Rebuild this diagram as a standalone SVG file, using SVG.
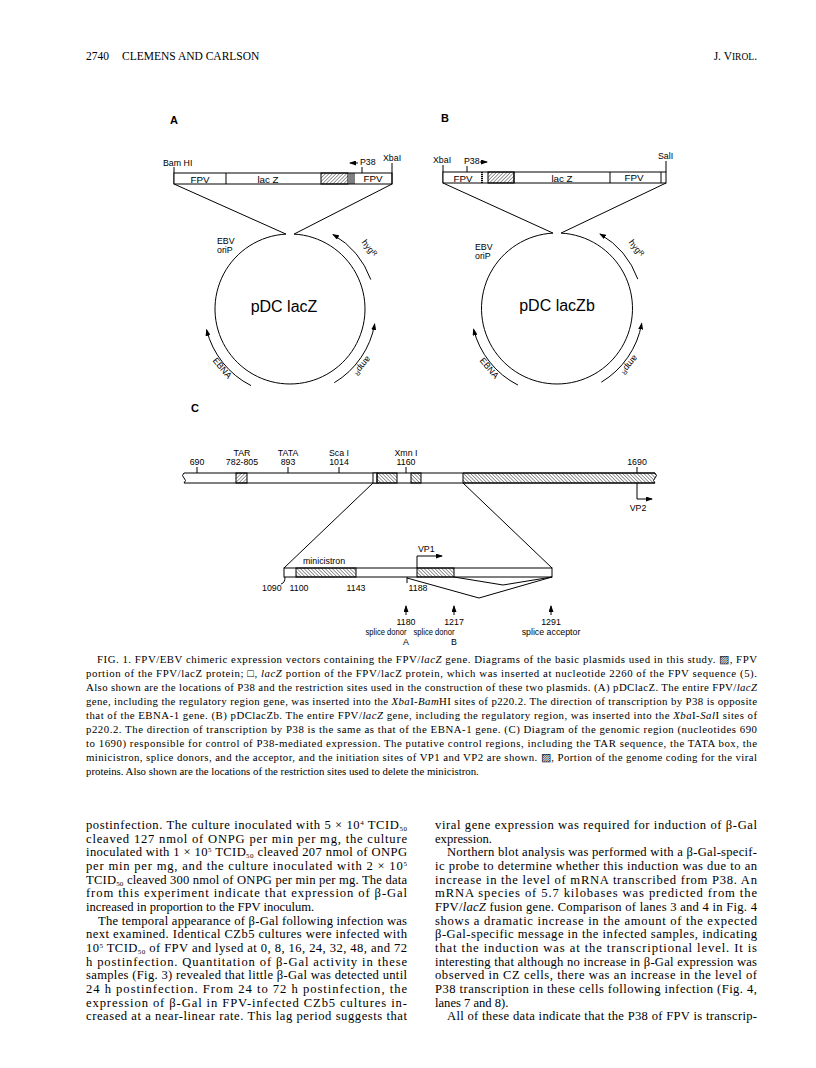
<svg xmlns="http://www.w3.org/2000/svg" width="816" height="1068" viewBox="0 0 816 1068">
<style>
.l{font-family:"Liberation Sans",Arial,sans-serif;font-size:8.8px;fill:#000}
.lc{font-family:"Liberation Sans",Arial,sans-serif;font-size:8.8px;fill:#000;text-anchor:middle}
.bl{font-family:"Liberation Sans",Arial,sans-serif;font-size:9.8px;fill:#000;text-anchor:middle}
.big{font-family:"Liberation Sans",Arial,sans-serif;font-size:16px;fill:#000;text-anchor:middle}
.pl{font-family:"Liberation Sans",Arial,sans-serif;font-size:11px;font-weight:bold;fill:#000}
.s{fill:none;stroke:#000;stroke-width:1}
.bx{fill:#fff;stroke:#000;stroke-width:1}
.hf{fill:url(#hf);stroke:#000;stroke-width:1}
.hb{fill:url(#hb);stroke:#000;stroke-width:1}
.cap{font-family:"Liberation Serif","Times New Roman",serif;font-size:10.8px;fill:#000}
.bd{font-family:"Liberation Serif","Times New Roman",serif;font-size:12.6px;fill:#000}
.hd{font-family:"Liberation Serif","Times New Roman",serif;font-size:11.5px;fill:#000}
.i{font-style:italic}
.sup{font-size:7px}
</style>
<defs>
<pattern id="hf" patternUnits="userSpaceOnUse" width="2.5" height="2.5" patternTransform="rotate(45)"><line x1="0" y1="0" x2="0" y2="2.5" stroke="#000" stroke-width="0.8"/></pattern>
<pattern id="hb" patternUnits="userSpaceOnUse" width="2.5" height="2.5" patternTransform="rotate(-45)"><line x1="0" y1="0" x2="0" y2="2.5" stroke="#000" stroke-width="0.8"/></pattern>
<marker id="ah" markerWidth="7" markerHeight="5" refX="6" refY="2.5" orient="auto" markerUnits="userSpaceOnUse"><path d="M0,0 L7,2.5 L0,5 z" fill="#000"/></marker>
</defs>

<g id="header">
<text class="hd" x="86" y="60">2740</text>
<text class="hd" x="122" y="60">CLEMENS AND CARLSON</text>
<text class="hd" x="757" y="60" text-anchor="end">J. V<tspan font-size="9.5">IROL</tspan>.</text>
</g>

<text class="pl" x="170" y="124">A</text>
<text class="pl" x="441" y="122">B</text>
<text class="pl" x="191" y="412" font-size="13">C</text>

<g id="panelA-insert">
<text class="l" x="163" y="166">Bam HI</text>
<line class="s" x1="174" y1="167" x2="174" y2="184"/>
<rect class="bx" x="174" y="173" width="218" height="11"/>
<line class="s" x1="226" y1="173" x2="226" y2="184"/>
<rect class="hf" x="321" y="173" width="27" height="11"/>
<line class="s" x1="350" y1="173" x2="350" y2="184"/>
<line class="s" x1="352" y1="173" x2="352" y2="184"/>
<line class="s" x1="354" y1="173" x2="354" y2="184"/>
<text class="bl" x="200" y="183">FPV</text>
<text class="bl" x="268" y="183">lac Z</text>
<text class="bl" x="373" y="182">FPV</text>
<line class="s" x1="358" y1="163" x2="350" y2="163" marker-end="url(#ah)"/>
<text class="l" x="360" y="165">P38</text>
<line class="s" x1="362" y1="167" x2="362" y2="173"/>
<text class="l" x="383" y="161">XbaI</text>
<line class="s" x1="392" y1="163" x2="392" y2="184"/>
</g>
<g id="plasmidA">
<path class="s" d="M286 234.1 A75 75 0 1 0 294 234.1"/>
<text class="l" x="217" y="244">EBV</text>
<text class="l" x="217" y="253">oriP</text>
<text class="big" x="284" y="312">pDC lacZ</text>
<path class="s" d="M370.8 279.6 A86 86 0 0 0 333 234.5" marker-end="url(#ah)"/>
<text class="lc" transform="translate(367 250) rotate(52)">hyg<tspan font-size="6.5" dy="-2">R</tspan></text>
<path class="s" d="M251 385.6 A86 86 0 0 1 206.6 329.8" marker-end="url(#ah)"/>
<text class="lc" transform="translate(220 370) rotate(50)">EBNA</text>
<path class="s" d="M334.3 382.7 A86 86 0 0 0 374.7 323.9" marker-end="url(#ah)"/>
<text class="lc" transform="translate(360 364) rotate(130)">amp<tspan font-size="6.5" dy="-2">R</tspan></text>
</g>

<g id="panelB-insert">
<text class="l" x="433" y="163">XbaI</text>
<line class="s" x1="443" y1="165" x2="443" y2="183"/>
<rect class="bx" x="443" y="172" width="223" height="11"/>
<line x1="482" y1="172" x2="482" y2="183" stroke="#000" stroke-width="2" stroke-dasharray="1.2 0.8"/>
<rect class="hf" x="488" y="172" width="26" height="11"/>
<line class="s" x1="514" y1="172" x2="514" y2="183"/>
<line class="s" x1="610" y1="172" x2="610" y2="183"/>
<line class="s" x1="661" y1="172" x2="661" y2="183"/>
<text class="bl" x="463" y="182">FPV</text>
<text class="bl" x="562" y="182">lac Z</text>
<text class="bl" x="634" y="181">FPV</text>
<text class="l" x="464" y="164">P38</text>
<line class="s" x1="480" y1="162" x2="487" y2="162" marker-end="url(#ah)"/>
<line class="s" x1="467" y1="166" x2="467" y2="172"/>
<text class="l" x="658" y="159">SalI</text>
<line class="s" x1="666" y1="161" x2="666" y2="172"/>
</g>
<g id="plasmidB">
<path class="s" d="M553 233.1 A75.5 75.5 0 1 0 561 233.1"/>
<text class="l" x="475" y="250">EBV</text>
<text class="l" x="475" y="259">oriP</text>
<text class="big" x="557" y="311">pDC lacZb</text>
<path class="s" d="M637.8 279.1 A86 86 0 0 0 600 234" marker-end="url(#ah)"/>
<text class="lc" transform="translate(634 250) rotate(52)">hyg<tspan font-size="6.5" dy="-2">R</tspan></text>
<path class="s" d="M518 385.1 A86 86 0 0 1 473.6 329.3" marker-end="url(#ah)"/>
<text class="lc" transform="translate(487 370) rotate(50)">EBNA</text>
<path class="s" d="M601.3 382.2 A86 86 0 0 0 641.7 323.4" marker-end="url(#ah)"/>
<text class="lc" transform="translate(627 363) rotate(130)">amp<tspan font-size="6.5" dy="-2">R</tspan></text>
</g>

<g id="genome">
<path class="s" d="M184 473 H655 M184 483 H655"/>
<path class="s" d="M184 473 q-3 2.5 0 5 q3 2.5 0 5"/>
<rect class="hf" x="236" y="473" width="11" height="10"/>
<rect class="bx" x="373" y="473" width="4" height="10"/>
<rect class="hb" x="377" y="473" width="20" height="10"/>
<rect class="hb" x="411" y="473" width="10" height="10"/>
<path class="hb" d="M463 473 H655 q3 2.5 0 5 q-3 2.5 0 5 H463 Z"/>
<text class="lc" x="197" y="465">690</text>
<line class="s" x1="197" y1="467" x2="197" y2="473"/>
<text class="lc" x="242" y="456">TAR</text>
<text class="lc" x="242" y="465">782-805</text>
<text class="lc" x="288" y="456">TATA</text>
<text class="lc" x="288" y="465">893</text>
<line class="s" x1="288" y1="467" x2="288" y2="473"/>
<text class="lc" x="339" y="456">Sca I</text>
<text class="lc" x="339" y="465">1014</text>
<line class="s" x1="339" y1="467" x2="339" y2="473"/>
<text class="lc" x="406" y="456">Xmn I</text>
<text class="lc" x="406" y="465">1160</text>
<line class="s" x1="406" y1="467" x2="406" y2="473"/>
<text class="lc" x="637" y="465">1690</text>
<line class="s" x1="637" y1="467" x2="637" y2="473"/>
<path class="s" d="M637 483 V499 H652" marker-end="url(#ah)"/>
<text class="lc" x="638" y="511">VP2</text>
</g>

<g id="minicistron-region">
<rect class="bx" x="284" y="568" width="268" height="9"/>
<rect class="hb" x="296" y="568" width="60" height="9"/>
<rect class="hb" x="417" y="568" width="37" height="9"/>
<text class="l" x="303" y="564">minicistron</text>
<path class="s" d="M417 568 V556 H442" marker-end="url(#ah)"/>
<text class="l" x="418" y="552">VP1</text>
<text class="l" x="262" y="591">1090</text>
<path class="s" d="M285 577 q0 6 -4 7"/>
<text class="lc" x="299" y="591">1100</text>
<text class="lc" x="356" y="591">1143</text>
<text class="lc" x="418" y="591">1188</text>
<line class="s" x1="407" y1="577" x2="407" y2="583"/>
</g>

<g id="splice-labels">
<line class="s" x1="406" y1="615" x2="406" y2="606" marker-end="url(#ah)" stroke-width="0.8"/>
<text class="lc" x="406" y="625">1180</text>
<text class="lc" x="386" y="635" text-anchor="start" textLength="41" lengthAdjust="spacingAndGlyphs">splice donor</text>
<text class="lc" x="406" y="645">A</text>
<line class="s" x1="454" y1="615" x2="454" y2="606" marker-end="url(#ah)" stroke-width="0.8"/>
<text class="lc" x="454" y="625">1217</text>
<text class="lc" x="434" y="635" text-anchor="start" textLength="41" lengthAdjust="spacingAndGlyphs">splice donor</text>
<text class="lc" x="454" y="645">B</text>
<line class="s" x1="551" y1="615" x2="551" y2="606" marker-end="url(#ah)" stroke-width="0.8"/>
<text class="lc" x="551" y="625">1291</text>
<text class="lc" x="551" y="635">splice acceptor</text>
</g>

<g id="connectors">
<line class="s" x1="174" y1="184" x2="286" y2="234.1"/>
<line class="s" x1="392" y1="184" x2="294" y2="234.1"/>
<line class="s" x1="443" y1="183" x2="553" y2="233.1"/>
<line class="s" x1="666" y1="183" x2="561" y2="233.1"/>
<line class="s" x1="373" y1="483" x2="284" y2="568"/>
<line class="s" x1="463" y1="483" x2="552" y2="568"/>
<polyline class="s" points="407,578 479,598 552,577"/>
<polyline class="s" points="454,577 503,585 552,577"/>
</g>

<g id="caption">
<text class="cap" x="97" y="663" textLength="660" lengthAdjust="spacing">FIG. 1.  FPV/EBV chimeric expression vectors containing the FPV/<tspan class="i">lacZ</tspan> gene. Diagrams of the basic plasmids used in this study. ▨, FPV</text>
<text class="cap" x="86" y="677" textLength="671" lengthAdjust="spacing">portion of the FPV/lacZ protein; □, <tspan class="i">lacZ</tspan> portion of the FPV/lacZ protein, which was inserted at nucleotide 2260 of the FPV sequence (5).</text>
<text class="cap" x="86" y="691" textLength="671" lengthAdjust="spacing">Also shown are the locations of P38 and the restriction sites used in the construction of these two plasmids. (A) pDClacZ. The entire FPV/<tspan class="i">lacZ</tspan></text>
<text class="cap" x="86" y="705" textLength="671" lengthAdjust="spacing">gene, including the regulatory region gene, was inserted into the <tspan class="i">Xba</tspan>I-<tspan class="i">Bam</tspan>HI sites of p220.2. The direction of transcription by P38 is opposite</text>
<text class="cap" x="86" y="719" textLength="671" lengthAdjust="spacing">that of the EBNA-1 gene. (B) pDClacZb. The entire FPV/<tspan class="i">lacZ</tspan> gene, including the regulatory region, was inserted into the <tspan class="i">Xba</tspan>I-<tspan class="i">Sal</tspan>I sites of</text>
<text class="cap" x="86" y="733" textLength="671" lengthAdjust="spacing">p220.2. The direction of transcription by P38 is the same as that of the EBNA-1 gene. (C) Diagram of the genomic region (nucleotides 690</text>
<text class="cap" x="86" y="747" textLength="671" lengthAdjust="spacing">to 1690) responsible for control of P38-mediated expression. The putative control regions, including the TAR sequence, the TATA box, the</text>
<text class="cap" x="86" y="761" textLength="671" lengthAdjust="spacing">minicistron, splice donors, and the acceptor, and the initiation sites of VP1 and VP2 are shown. ▨, Portion of the genome coding for the viral</text>
<text class="cap" x="86" y="775">proteins. Also shown are the locations of the restriction sites used to delete the minicistron.</text>
</g>

<g id="body-left">
<text class="bd" x="86" y="829" textLength="321" lengthAdjust="spacing">postinfection. The culture inoculated with 5 × 10<tspan class="sup" dy="-4">4</tspan><tspan dy="4"> TCID</tspan><tspan class="sup" dy="2">50</tspan></text>
<text class="bd" x="86" y="843" textLength="321" lengthAdjust="spacing">cleaved 127 nmol of ONPG per min per mg, the culture</text>
<text class="bd" x="86" y="856" textLength="321" lengthAdjust="spacing">inoculated with 1 × 10<tspan class="sup" dy="-4">5</tspan><tspan dy="4"> TCID</tspan><tspan class="sup" dy="2">50</tspan><tspan dy="-2"> cleaved 207 nmol of ONPG</tspan></text>
<text class="bd" x="86" y="870" textLength="321" lengthAdjust="spacing">per min per mg, and the culture inoculated with 2 × 10<tspan class="sup" dy="-4">5</tspan></text>
<text class="bd" x="86" y="884" textLength="321" lengthAdjust="spacing">TCID<tspan class="sup" dy="2">50</tspan><tspan dy="-2"> cleaved 300 nmol of ONPG per min per mg. The data</tspan></text>
<text class="bd" x="86" y="897" textLength="321" lengthAdjust="spacing">from this experiment indicate that expression of β-Gal</text>
<text class="bd" x="86" y="911">increased in proportion to the FPV inoculum.</text>
<text class="bd" x="98" y="925" textLength="309" lengthAdjust="spacing">The temporal appearance of β-Gal following infection was</text>
<text class="bd" x="86" y="938" textLength="321" lengthAdjust="spacing">next examined. Identical CZb5 cultures were infected with</text>
<text class="bd" x="86" y="952" textLength="321" lengthAdjust="spacing">10<tspan class="sup" dy="-4">5</tspan><tspan dy="4"> TCID</tspan><tspan class="sup" dy="2">50</tspan><tspan dy="-2"> of FPV and lysed at 0, 8, 16, 24, 32, 48, and 72</tspan></text>
<text class="bd" x="86" y="966" textLength="321" lengthAdjust="spacing">h postinfection. Quantitation of β-Gal activity in these</text>
<text class="bd" x="86" y="979" textLength="321" lengthAdjust="spacing">samples (Fig. 3) revealed that little β-Gal was detected until</text>
<text class="bd" x="86" y="993" textLength="321" lengthAdjust="spacing">24 h postinfection. From 24 to 72 h postinfection, the</text>
<text class="bd" x="86" y="1007" textLength="321" lengthAdjust="spacing">expression of β-Gal in FPV-infected CZb5 cultures in-</text>
<text class="bd" x="86" y="1020" textLength="321" lengthAdjust="spacing">creased at a near-linear rate. This lag period suggests that</text>
</g>

<g id="body-right">
<text class="bd" x="435" y="829" textLength="322" lengthAdjust="spacing">viral gene expression was required for induction of β-Gal</text>
<text class="bd" x="435" y="843">expression.</text>
<text class="bd" x="447" y="856" textLength="310" lengthAdjust="spacing">Northern blot analysis was performed with a β-Gal-specif-</text>
<text class="bd" x="435" y="870" textLength="322" lengthAdjust="spacing">ic probe to determine whether this induction was due to an</text>
<text class="bd" x="435" y="884" textLength="322" lengthAdjust="spacing">increase in the level of mRNA transcribed from P38. An</text>
<text class="bd" x="435" y="897" textLength="322" lengthAdjust="spacing">mRNA species of 5.7 kilobases was predicted from the</text>
<text class="bd" x="435" y="911" textLength="322" lengthAdjust="spacing">FPV/<tspan class="i">lacZ</tspan> fusion gene. Comparison of lanes 3 and 4 in Fig. 4</text>
<text class="bd" x="435" y="925" textLength="322" lengthAdjust="spacing">shows a dramatic increase in the amount of the expected</text>
<text class="bd" x="435" y="938" textLength="322" lengthAdjust="spacing">β-Gal-specific message in the infected samples, indicating</text>
<text class="bd" x="435" y="952" textLength="322" lengthAdjust="spacing">that the induction was at the transcriptional level. It is</text>
<text class="bd" x="435" y="966" textLength="322" lengthAdjust="spacing">interesting that although no increase in β-Gal expression was</text>
<text class="bd" x="435" y="979" textLength="322" lengthAdjust="spacing">observed in CZ cells, there was an increase in the level of</text>
<text class="bd" x="435" y="993" textLength="322" lengthAdjust="spacing">P38 transcription in these cells following infection (Fig. 4,</text>
<text class="bd" x="435" y="1007">lanes 7 and 8).</text>
<text class="bd" x="447" y="1020" textLength="310" lengthAdjust="spacing">All of these data indicate that the P38 of FPV is transcrip-</text>
</g>
</svg>
